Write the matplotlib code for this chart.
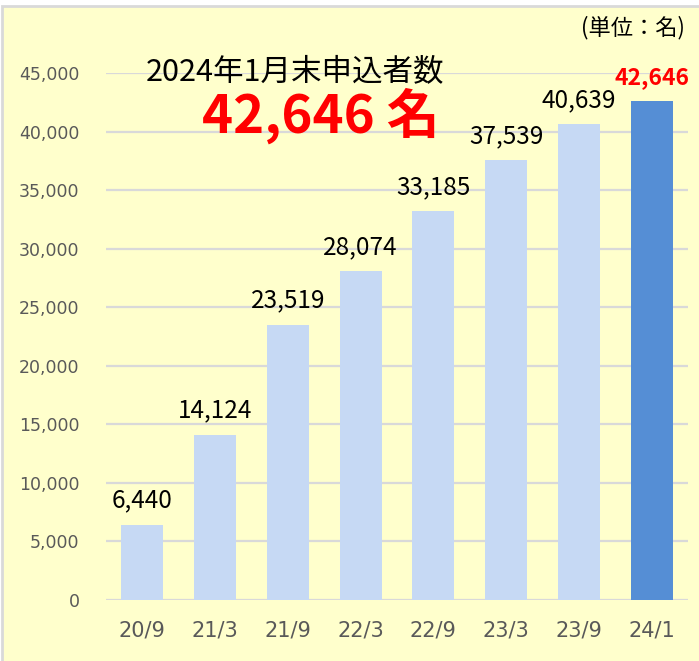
import matplotlib
matplotlib.use('Agg')
import matplotlib.pyplot as plt
from matplotlib.patches import Rectangle

# data
periods = ['20/9', '21/3', '21/9', '22/3', '22/9', '23/3', '23/9', '24/1']
applicants = [6440, 14124, 23519, 28074, 33185, 37539, 40639, 42646]
y_ticks = [0, 5000, 10000, 15000, 20000, 25000, 30000, 35000, 40000, 45000]

title_text = '2024年1月末申込者数'
big_text = '42,646 名'
unit_text = '(単位：名)'

jp_font = ['Noto Sans CJK JP', 'DejaVu Sans']

fig = plt.figure(figsize=(6.99, 6.61), dpi=100)
fig.patch.set_facecolor('white')

# pale yellow panel with a grey border on the top and left
fig.patches.append(Rectangle((2 / 699, -0.05), 1.1, 1 - 6 / 661 + 0.05,
                             transform=fig.transFigure, facecolor='#FFFFCC',
                             edgecolor='#D9D9D9', linewidth=2, zorder=-10))

ax = fig.add_axes([106 / 699, 1 - 600 / 661, (688 - 106) / 699, (600 - 73) / 661])
ax.set_facecolor('none')

colors = ['#C6D9F4'] * (len(periods) - 1) + ['#558ED5']
x = range(len(periods))
bars = ax.bar(x, applicants, width=0.58, color=colors, zorder=2)

# value labels on top of each bar
for i, (xi, v) in enumerate(zip(x, applicants)):
    last = i == len(periods) - 1
    ax.annotate(f'{v:,}', (xi, v), xytext=(0, 8), textcoords='offset points',
                ha='center', va='bottom', fontsize=16.5 if last else 17.5,
                fontweight='bold' if last else 'normal',
                color='#FF0000' if last else 'black', family=jp_font,
                annotation_clip=False)

ax.set_xlim(-0.5, len(periods) - 0.5)
ax.set_ylim(0, 45000)
ax.set_yticks(y_ticks)
ax.set_yticklabels([f'{t:,}' for t in y_ticks])
ax.set_xticks(list(x))
ax.set_xticklabels(periods)
ax.tick_params(axis='y', length=0, pad=19, labelsize=12.5, labelcolor='#595959')
ax.tick_params(axis='x', length=0, pad=15, labelsize=15, labelcolor='#595959')

ax.grid(axis='y', color='#D9D9D9', linewidth=1.6, zorder=0)
ax.set_axisbelow(True)
for s in ax.spines.values():
    s.set_visible(False)

fig.text(295 / 699, 1 - 72 / 661, title_text, ha='center', va='center',
         fontsize=22, family=jp_font, color='black')
fig.text(321 / 699, 1 - 116 / 661, big_text, ha='center', va='center',
         fontsize=38, fontweight='bold', family=jp_font, color='#FF0000')
fig.text(633 / 699, 1 - 28 / 661, unit_text, ha='center', va='center',
         fontsize=16, family=jp_font, color='black')

fig.savefig('out.png', dpi=100)
